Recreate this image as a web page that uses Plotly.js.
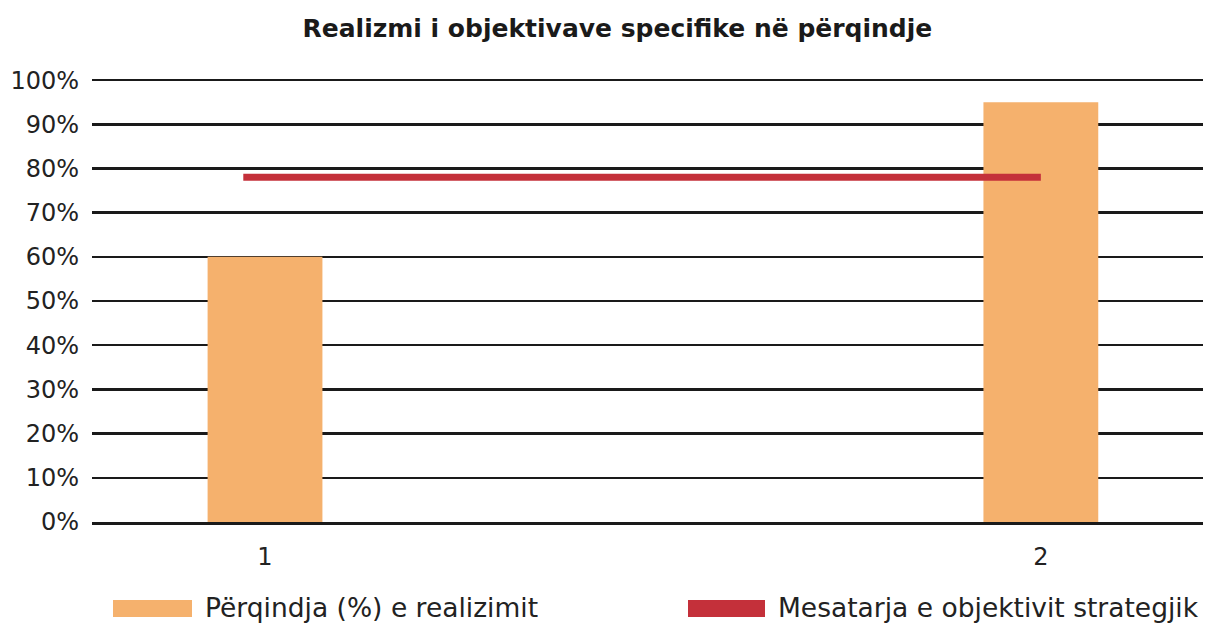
<!DOCTYPE html>
<html>
<head>
<meta charset="utf-8">
<script src="https://cdn.plot.ly/plotly-3.0.1.min.js"></script>
<style>html,body{margin:0;padding:0;background:#fff;}#chart{width:1225px;height:624px;}</style>
</head>
<body>
<div id="chart"></div>
<script>
// Data
const categories = [1, 2];
const categoryLabels = ['1', '2'];
const barValues = [60, 95];
const lineX = [0.972, 2];
const lineValues = [78, 78];
const yTicks = [0, 10, 20, 30, 40, 50, 60, 70, 80, 90, 100];
const yTickLabels = ['0%', '10%', '20%', '30%', '40%', '50%', '60%', '70%', '80%', '90%', '100%'];
const seriesNames = ['Përqindja (%) e realizimit', 'Mesatarja e objektivit strategjik'];
const titleText = 'Realizmi i objektivave specifike në përqindje';

const FONT = 'DejaVu Sans, sans-serif';
const barColor = '#F5B16D';
const lineColor = '#C4303A';

// plot area in pixels
const L = 92, R = 1203, T = 79, B = 522, W = 1225, H = 624;
const px = x => (x - L) / (R - L);
const py = y => (B - y) / (B - T);

const traces = [
  {
    type: 'bar', x: categories, y: barValues, name: seriesNames[0],
    width: 0.148, marker: {color: barColor}, hoverinfo: 'y'
  },
  {
    type: 'scatter', mode: 'lines', x: lineX, y: lineValues, name: seriesNames[1],
    line: {color: lineColor, width: 7}, hoverinfo: 'y'
  }
];

const legendItems = [
  {rx0: 113, rx1: 192, tx: 203, color: barColor, text: seriesNames[0]},
  {rx0: 688, rx1: 765, tx: 776, color: lineColor, text: seriesNames[1]}
];
const shapes = legendItems.map(it => ({
  type: 'rect', xref: 'paper', yref: 'paper',
  x0: px(it.rx0), x1: px(it.rx1), y0: py(617), y1: py(600),
  fillcolor: it.color, line: {width: 0}
}));
const annotations = legendItems.map(it => ({
  xref: 'paper', yref: 'paper', x: px(it.tx), y: py(607),
  xanchor: 'left', yanchor: 'middle', showarrow: false,
  text: it.text, font: {family: FONT, size: 26.5, color: '#222'}
}));

const layout = {
  width: W, height: H,
  margin: {l: L, r: W - R, t: T, b: H - B, pad: 0},
  paper_bgcolor: '#fff', plot_bgcolor: '#fff',
  showlegend: false,
  title: {
    text: titleText, x: 0.504, xref: 'container', xanchor: 'center',
    y: 1 - 28 / H, yref: 'container', yanchor: 'middle',
    font: {family: FONT, size: 25, color: '#1a1a1a', weight: 'bold'}
  },
  xaxis: {
    range: [0.777, 2.209], tickvals: categories, ticktext: categoryLabels,
    showgrid: false, zeroline: false, showline: true, linecolor: '#1a1a1a', linewidth: 2.5,
    ticks: '', ticklabelstandoff: 12,
    tickfont: {family: FONT, size: 24, color: '#222'}, fixedrange: true
  },
  yaxis: {
    range: [0, 100.25], tickvals: yTicks, ticktext: yTickLabels,
    showgrid: true, gridcolor: '#1a1a1a', gridwidth: 2.5,
    zeroline: false, showline: false, ticks: '', ticklabelstandoff: 12,
    tickfont: {family: FONT, size: 24, color: '#222'}, fixedrange: true
  },
  shapes: shapes,
  annotations: annotations
};

Plotly.newPlot('chart', traces, layout, {displayModeBar: false, staticPlot: true});
</script>
</body>
</html>
